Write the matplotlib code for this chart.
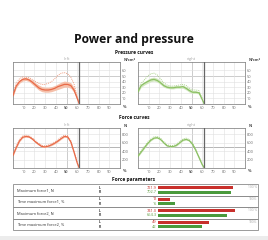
import matplotlib
matplotlib.use("Agg")
import matplotlib.pyplot as plt
from matplotlib.patches import Rectangle

# ---------------- data ----------------
cycle_x = [0, 3, 6, 9, 12, 15, 18, 21, 24, 27, 30, 33, 36, 39, 42, 45, 48, 51, 54, 57, 60, 62]

p_left_mean = [15, 32, 40, 44, 45, 43, 39, 34, 29, 26, 25, 25, 26, 28, 31, 33, 35, 35, 33, 25, 10, 0]
p_left_lo = [13, 29, 37, 41, 42, 40, 35, 30, 25, 22, 21, 21, 22, 24, 26, 28, 30, 30, 28, 21, 8, 0]
p_left_hi = [17, 35, 43, 47, 48, 46, 43, 38, 34, 31, 30, 30, 31, 33, 36, 39, 41, 40, 38, 30, 12, 0]
p_left_max = [18, 37, 45, 48, 48, 47, 44, 40, 37, 35, 35, 37, 40, 45, 51, 55, 56, 54, 48, 36, 14, 0]

p_right_mean = [22, 33, 37, 40, 43, 44, 42, 38, 33, 30, 29, 29, 30, 30, 31, 28, 24, 21, 21, 20, 8, 0]
p_right_lo = [20, 30, 34, 37, 40, 41, 39, 35, 30, 28, 27, 27, 28, 28, 28, 25, 21, 19, 19, 18, 7, 0]
p_right_hi = [24, 36, 40, 44, 47, 48, 46, 42, 36, 33, 32, 32, 33, 33, 34, 31, 27, 24, 24, 22, 9, 0]
p_right_max = [25, 37, 43, 50, 54, 55, 52, 45, 38, 34, 32, 32, 33, 34, 35, 33, 28, 25, 25, 24, 10, 0]

f_left_mean = [300, 480, 640, 730, 750, 740, 690, 620, 560, 510, 500, 520, 550, 590, 640, 700, 750, 740, 620, 380, 120, 0]
f_left_lo = [285, 462, 622, 712, 733, 722, 672, 602, 543, 494, 484, 503, 533, 572, 622, 682, 732, 722, 602, 364, 112, 0]
f_left_hi = [315, 498, 658, 748, 767, 758, 708, 638, 577, 526, 516, 537, 567, 608, 658, 718, 768, 758, 638, 396, 128, 0]
f_left_max = [330, 520, 672, 762, 778, 768, 718, 648, 587, 536, 526, 548, 580, 622, 672, 732, 778, 768, 652, 410, 135, 0]

f_right_mean = [280, 380, 480, 580, 660, 710, 720, 680, 600, 530, 510, 510, 540, 600, 660, 680, 650, 560, 420, 250, 80, 0]
f_right_lo = [266, 364, 464, 564, 644, 694, 704, 664, 584, 514, 495, 495, 524, 584, 644, 664, 634, 544, 405, 237, 72, 0]
f_right_hi = [294, 396, 496, 596, 676, 726, 736, 696, 616, 546, 525, 525, 556, 616, 676, 696, 666, 576, 435, 263, 88, 0]
f_right_max = [305, 410, 510, 610, 690, 738, 748, 708, 628, 556, 535, 535, 566, 628, 690, 708, 678, 588, 446, 272, 92, 0]

x_ticks = [10, 20, 30, 40, 50, 60, 70, 80, 90]
p_ticks = [10, 20, 30, 40, 50, 60]
f_ticks = [200, 400, 600, 800]

param_labels = ["Maximum force1, N", "Time maximum force1, %", "Maximum force2, N", "Time maximum force2, %"]
param_left = [721.9, 12, 741.0, 49]
param_right = [702.7, 16, 664.3, 42]
param_left_txt = ["721.9", "12", "741.0", "49"]
param_right_txt = ["702.7", "16", "664.3", "42"]
param_scale = [1000, 100, 1000, 100]
param_full_txt = ["100 %", "100%", "100 %", "100%"]

# ---------------- style ----------------
W, H = 268, 240
plt.rcParams['font.family'] = ['Open Sans', 'DejaVu Sans']
fig = plt.figure(figsize=(W / 100, H / 100), dpi=100)
fig.patch.set_facecolor('white')

RED_LINE, RED_BAND, RED_DOT = '#e86a48', '#f5c0aa', '#ee9272'
GRN_LINE, GRN_BAND, GRN_DOT = '#8cc064', '#d3e8c1', '#9fcc7c'
GRAY_TXT = '#6a6a6a'


def px_axes(x0, y0, x1, y1, **kw):
    return fig.add_axes([x0 / W, 1 - y1 / H, (x1 - x0) / W, (y1 - y0) / H], **kw)


bg = fig.add_axes([0, 0, 1, 1], zorder=-5)
bg.set_xlim(0, W)
bg.set_ylim(H, 0)
bg.axis('off')


def curve_panel(box, title, lo, hi, mean, mx, line_c, band_c, dot_c, ymax, yticks, unit, hline):
    ax = px_axes(*box)
    ax.fill_between(cycle_x, lo, hi, color=band_c, lw=0, zorder=2)
    ax.plot(cycle_x, mx, ls=(0, (1, 1.2)), color=dot_c, lw=0.65, zorder=3)
    ax.plot(cycle_x, mean, color=line_c, lw=0.9, zorder=4)
    ax.set_xlim(0, 100)
    ax.set_ylim(0, ymax)
    ax.set_xticks(x_ticks)
    ax.set_xticklabels([str(v) for v in x_ticks])
    for lbl in ax.get_xticklabels():
        if lbl.get_text() == '50':
            lbl.set_fontweight('bold')
            lbl.set_color('#333333')
    ax.set_yticks(yticks)
    ax.set_yticklabels([str(v) for v in yticks])
    ax.yaxis.tick_right()
    ax.grid(color='#e0e0e0', lw=0.4, zorder=0)
    ax.axhline(hline, color='#aaaaaa', lw=0.6, zorder=1)
    ax.axvline(50, color='#aaaaaa', lw=0.6, zorder=1)
    ax.axvline(62, color='#666666', lw=0.9, zorder=5)
    ax.tick_params(length=0, labelsize=2.8, colors=GRAY_TXT, pad=1.5)
    for s in ax.spines.values():
        s.set_color('#8a8a8a')
        s.set_linewidth(0.6)
    ax.text(0.5, 1.03, title, transform=ax.transAxes, ha='center', va='bottom',
            fontsize=3, color='#aaaaaa')
    ax.text(1.03, 1.0, unit, transform=ax.transAxes, ha='left', va='bottom',
            fontsize=2.8, color='#444444', fontweight='bold')
    ax.text(1.03, -0.03, '%', transform=ax.transAxes, ha='left', va='top',
            fontsize=2.8, color='#444444', fontweight='bold')
    return ax


fig.text(0.5, 1 - 40 / H, 'Power and pressure', ha='center', va='center',
         fontsize=8.7, fontweight='bold', color='#111111')
fig.text(0.5, 1 - 53 / H, 'Pressure curves', ha='center', va='center',
         fontsize=3.5, fontweight='bold', color='#111111')
fig.text(0.5, 1 - 117.5 / H, 'Force curves', ha='center', va='center',
         fontsize=3.5, fontweight='bold', color='#111111')
fig.text(0.5, 1 - 179.5 / H, 'Force parameters', ha='center', va='center',
         fontsize=3.5, fontweight='bold', color='#111111')

curve_panel((13, 62, 120, 104), 'left', p_left_lo, p_left_hi, p_left_mean, p_left_max,
            RED_LINE, RED_BAND, RED_DOT, 75, p_ticks, 'N/cm²', 50)
curve_panel((138, 62, 245, 104), 'right', p_right_lo, p_right_hi, p_right_mean, p_right_max,
            GRN_LINE, GRN_BAND, GRN_DOT, 75, p_ticks, 'N/cm²', 50)
curve_panel((13, 128, 120, 168), 'left', f_left_lo, f_left_hi, f_left_mean, f_left_max,
            RED_LINE, RED_BAND, RED_DOT, 950, f_ticks, 'N', 500)
curve_panel((138, 128, 245, 168), 'right', f_right_lo, f_right_hi, f_right_mean, f_right_max,
            GRN_LINE, GRN_BAND, GRN_DOT, 950, f_ticks, 'N', 500)

# ---------------- table ----------------
T_TOP, T_BOT, T_L, T_R = 184, 230, 13, 258
n = len(param_labels)
gh = (T_BOT - T_TOP) / n
for i, lab in enumerate(param_labels):
    y0 = T_TOP + i * gh
    bg.add_patch(Rectangle((T_L, y0), T_R - T_L, gh, fill=False, ec='#8a8a8a', lw=0.6))
    bg.text(T_L + 4, y0 + gh / 2, lab, ha='left', va='center', fontsize=2.9, color='#333333')
    bg.text(100, y0 + gh * 0.32, 'L', ha='center', va='center', fontsize=2.4,
            fontweight='bold', color='#333333')
    bg.text(100, y0 + gh * 0.72, 'R', ha='center', va='center', fontsize=2.4,
            fontweight='bold', color='#333333')
    bg.text(157, y0 + gh * 0.32, param_left_txt[i], ha='right', va='center',
            fontsize=2.8, color='#c8302c')
    bg.text(157, y0 + gh * 0.72, param_right_txt[i], ha='right', va='center',
            fontsize=2.8, color='#5a9a3c')
    bg.text(T_R - 1, y0 + gh * 0.3, param_full_txt[i], ha='right', va='center',
            fontsize=2.4, color='#aaaaaa')
bg.add_patch(Rectangle((0, 236), W, 4, color='#ececec', lw=0))

bax = px_axes(158, T_TOP, 262, T_BOT)
bax.set_xlim(0, 1)
bax.set_ylim(n, 0)
bax.axis('off')
pos = list(range(n))
bax.barh([p + 0.32 for p in pos], [v / s for v, s in zip(param_left, param_scale)],
         height=0.26, left=0, color='#c8302c', lw=0)
bax.barh([p + 0.72 for p in pos], [v / s for v, s in zip(param_right, param_scale)],
         height=0.26, left=0, color='#4a9a3c', lw=0)

fig.savefig('out.png', dpi=100)
